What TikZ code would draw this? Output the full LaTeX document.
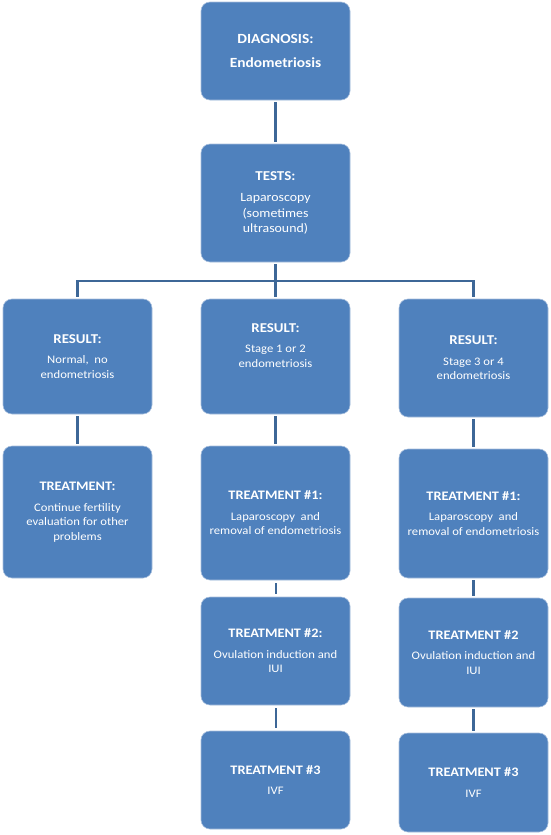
\documentclass[tikz,border=0pt]{standalone}
\usepackage{fontspec}
\setmainfont{Carlito}[FakeStretch=1.1]
\usepackage{xcolor}
\usepackage{tikz}
\usetikzlibrary{positioning}

\definecolor{boxblue}{HTML}{4F81BD}
\definecolor{boxrim}{HTML}{A7BFDD}
\definecolor{linkblue}{HTML}{3D6797}

\newcommand{\boxtitle}[2][13]{{\fontsize{#1}{14.5}\selectfont\bfseries #2}\\[6pt]}

\begin{document}
\begin{tikzpicture}[x=1pt, y=-1pt,
  box/.style={rectangle, rounded corners=9pt, fill=boxblue, draw=boxrim, line width=0.6pt,
    minimum width=149pt, text=white, align=center,
    font=\fontsize{11.5}{14.5}\selectfont},
  link/.style={draw=linkblue, line width=2.5pt, shorten >=2pt, shorten <=2pt},
  thinlink/.style={draw=linkblue, line width=2pt, shorten >=3pt, shorten <=3pt}]
\useasboundingbox (0,0) rectangle (550,835);

\node[box, minimum height=98pt, font=\fontsize{14}{23.5}\selectfont\bfseries] (diag) at (275.5,51) {DIAGNOSIS:\\Endometriosis};
\node[box, minimum height=118pt, font=\fontsize{12.6}{15.3}\selectfont] (tests) at (275.5,203) {\boxtitle[13.6]{TESTS:}Laparoscopy\\(sometimes\\ultrasound)};

\node[box, minimum height=115pt] (resL) at (77.5,356.5) {\boxtitle[13.5]{RESULT:}Normal,\ \ no\\endometriosis};
\node[box, minimum height=115pt] (resM) at (275.5,356.5) {\boxtitle[13.5]{RESULT:}Stage 1 or 2\\endometriosis\\[8pt]\mbox{}};
\node[box, minimum height=118pt] (resR) at (473.5,358) {\boxtitle[13.5]{RESULT:}Stage 3 or 4\\endometriosis};

\node[box, minimum height=132pt] (trL) at (77.5,512) {\boxtitle{TREATMENT:}Continue fertility\\evaluation for other\\problems};
\node[box, minimum height=134pt] (trMa) at (275.5,513) {\boxtitle{TREATMENT \#1:}Laparoscopy\ \ and\\removal of endometriosis};
\node[box, minimum height=129pt] (trRa) at (473.5,513.5) {\boxtitle{TREATMENT \#1:}Laparoscopy\ \ and\\removal of endometriosis};

\node[box, minimum height=108pt] (trMb) at (275.5,651) {\boxtitle{TREATMENT \#2:}Ovulation induction and\\IUI};
\node[box, minimum height=109pt] (trRb) at (473.5,652.5) {\boxtitle{TREATMENT \#2}Ovulation induction and\\IUI};

\node[box, minimum height=98pt] (trMc) at (275.5,780) {\boxtitle{TREATMENT \#3}IVF};
\node[box, minimum height=99pt] (trRc) at (473.5,782.5) {\boxtitle{TREATMENT \#3}IVF};

\coordinate (split) at (275.5,281);

\draw[link] (diag) -- (tests);
\draw[link, shorten >=0pt] (tests) -- (split);
\draw[link] (resL.north) |- (split) -| (resR.north);
\draw[link, shorten <=0pt] (split) -- (resM);
\draw[link] (resL) -- (trL);
\draw[link] (resM) -- (trMa);
\draw[link] (resR) -- (trRa);
\draw[thinlink] (trMa) -- (trMb);
\draw[thinlink] (trMb) -- (trMc);
\draw[link] (trRa) -- (trRb);
\draw[link] (trRb) -- (trRc);
\end{tikzpicture}
\end{document}
